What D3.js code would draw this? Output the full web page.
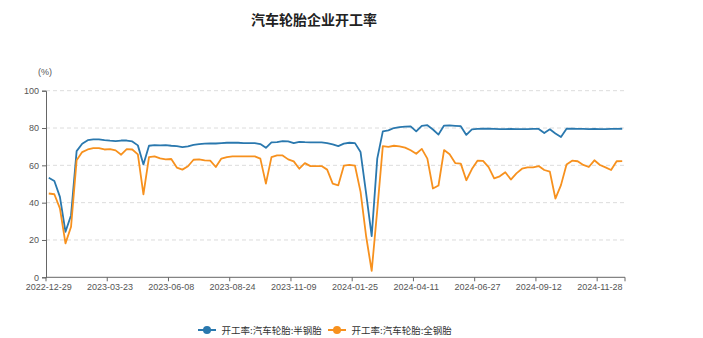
<!DOCTYPE html>
<html><head><meta charset="utf-8">
<script src="https://cdn.jsdelivr.net/npm/d3@7"></script>
<style>
html,body{margin:0;padding:0;background:#fff;}
svg{display:block;font-family:"Liberation Sans","Noto Sans CJK SC",sans-serif;}
</style></head>
<body><svg id="c" width="703" height="338"></svg>
<script>
const title = "汽车轮胎企业开工率";
const unitLabel = "(%)";
const seriesNames = ["开工率:汽车轮胎:半钢胎", "开工率:汽车轮胎:全钢胎"];
const seriesColors = ["#2a78ae", "#f7911e"];
const dates = [
"2022-12-29","2023-01-05","2023-01-12","2023-01-19","2023-02-02","2023-02-09","2023-02-16","2023-02-23","2023-03-02","2023-03-09","2023-03-16",
"2023-03-23","2023-03-30","2023-04-06","2023-04-13","2023-04-20","2023-04-27","2023-05-04","2023-05-11","2023-05-18","2023-05-25","2023-06-01",
"2023-06-08","2023-06-15","2023-06-22","2023-06-29","2023-07-06","2023-07-13","2023-07-20","2023-07-27","2023-08-03","2023-08-10","2023-08-17",
"2023-08-24","2023-08-31","2023-09-07","2023-09-14","2023-09-21","2023-09-28","2023-10-05","2023-10-12","2023-10-19","2023-10-26","2023-11-02",
"2023-11-09","2023-11-16","2023-11-23","2023-11-30","2023-12-07","2023-12-14","2023-12-21","2023-12-28","2024-01-04","2024-01-11","2024-01-18",
"2024-01-25","2024-02-01","2024-02-08","2024-02-15","2024-02-22","2024-02-29","2024-03-07","2024-03-14","2024-03-21","2024-03-28","2024-04-04",
"2024-04-11","2024-04-18","2024-04-25","2024-05-02","2024-05-09","2024-05-16","2024-05-23","2024-05-30","2024-06-06","2024-06-13","2024-06-20",
"2024-06-27","2024-07-04","2024-07-11","2024-07-18","2024-07-25","2024-08-01","2024-08-08","2024-08-15","2024-08-22","2024-08-29","2024-09-05",
"2024-09-12","2024-09-19","2024-09-26","2024-10-03","2024-10-10","2024-10-17","2024-10-24","2024-10-31","2024-11-07","2024-11-14","2024-11-21",
"2024-11-28","2024-12-05","2024-12-12","2024-12-19","2024-12-26"];
const semiSteel = [
53.4,51.6,43.1,24.4,33.3,67.6,71.6,73.5,73.9,73.9,
73.5,73.2,73.0,73.3,73.3,72.8,70.7,60.5,70.5,70.8,
70.7,70.8,70.5,70.3,69.8,70.2,71.0,71.4,71.6,71.7,
71.7,71.9,72.1,72.1,72.1,71.9,71.9,71.9,71.4,69.4,
72.3,72.4,73.0,72.8,71.9,72.6,72.4,72.3,72.3,72.3,
71.9,71.2,70.3,71.6,72.1,71.9,67.1,45.0,22.1,63.6,
78.2,78.7,80.0,80.5,80.8,80.9,78.2,81.2,81.5,79.2,
76.5,81.3,81.4,81.2,81.0,76.3,79.3,79.5,79.7,79.6,
79.5,79.4,79.4,79.5,79.4,79.4,79.4,79.5,79.5,77.3,
79.3,77.1,75.2,79.6,79.6,79.5,79.5,79.4,79.5,79.4,
79.4,79.5,79.5,79.6];
const fullSteel = [
44.9,44.5,36.9,18.2,27.1,62.7,67.1,68.5,69.2,69.2,
68.5,68.7,68.0,65.7,68.7,68.5,65.9,44.5,64.4,64.8,
63.7,63.2,63.4,58.8,57.7,59.5,63.0,63.2,62.7,62.5,
59.1,63.6,64.4,64.8,64.8,64.8,64.8,64.8,63.6,50.2,
64.4,65.3,65.3,63.2,62.1,58.2,61.2,59.6,59.6,59.6,
57.7,50.2,49.3,59.8,60.2,59.8,45.8,22.0,3.4,36.0,
70.3,69.9,70.5,70.2,69.5,68.1,66.2,68.8,63.6,47.6,
49.2,68.2,65.9,61.2,60.9,52.0,58.0,62.5,62.4,59.0,
53.0,54.1,56.3,52.4,55.7,58.2,58.9,58.9,59.6,57.5,
56.6,42.2,49.4,60.5,62.5,62.2,60.2,59.1,62.7,60.2,
58.9,57.5,62.2,62.3];
const yTicks = [0,20,40,60,80,100];
const xTickLabels = ["2022-12-29","2023-03-23","2023-06-08","2023-08-24","2023-11-09","2024-01-25","2024-04-11","2024-06-27","2024-09-12","2024-11-28"];

const svg = d3.select("#c");
const plotLeft = 46, plotRight = 625, plotTop = 90.7, plotBottom = 277.3;
const x = d3.scaleBand().domain(dates).range([plotLeft, plotRight]).padding(0);
const y = d3.scaleLinear().domain([0, 100]).range([plotBottom, plotTop]);
const cx = d => x(d) + x.bandwidth() / 2;

// title
svg.append("text").attr("x", 314).attr("y", 25).attr("text-anchor", "middle")
  .attr("font-size", 14).attr("font-weight", "bold").attr("fill", "#222")
  .attr("font-family", "'Noto Sans CJK SC',sans-serif").text(title);
svg.append("text").attr("x", 45).attr("y", 75).attr("text-anchor", "middle")
  .attr("font-size", 9).attr("fill", "#555").text(unitLabel);

// grid
svg.append("g").selectAll("line").data(yTicks.filter(v => v > 0)).join("line")
  .attr("x1", plotLeft).attr("x2", plotRight).attr("y1", d => y(d)).attr("y2", d => y(d))
  .attr("stroke", "#dcdcdc").attr("stroke-dasharray", "4,3").attr("stroke-width", 1);

// y axis
const yAxis = svg.append("g").attr("transform", `translate(${plotLeft},0)`)
  .call(d3.axisLeft(y).tickValues(yTicks).tickSize(4).tickPadding(3));
yAxis.select(".domain").attr("stroke", "#666");
yAxis.selectAll(".tick line").attr("stroke", "#666");
yAxis.selectAll(".tick text").attr("fill", "#555").attr("font-size", 9)
  .attr("font-family", "'Liberation Sans',sans-serif");

// x axis
const xg = svg.append("g");
xg.append("line").attr("x1", plotLeft).attr("x2", plotRight).attr("y1", plotBottom).attr("y2", plotBottom).attr("stroke", "#666");
const tickPos = xTickLabels.map(d => x(d)).concat([plotRight]);
xg.selectAll("line.t").data(tickPos).join("line").attr("class", "t")
  .attr("x1", d => d).attr("x2", d => d).attr("y1", plotBottom).attr("y2", plotBottom + 4).attr("stroke", "#666");
xg.selectAll("text").data(xTickLabels).join("text")
  .attr("x", d => cx(d)).attr("y", plotBottom + 12.5).attr("text-anchor", "middle")
  .attr("font-size", 9).attr("fill", "#555").attr("font-family", "'Liberation Sans',sans-serif").text(d => d);

// lines
const seriesData = [semiSteel, fullSteel];
const line = d3.line().x((d, i) => cx(dates[i])).y(d => y(d));
seriesData.forEach((s, k) => {
  svg.append("path").datum(s).attr("d", line).attr("fill", "none")
    .attr("stroke", seriesColors[k]).attr("stroke-width", 1.8).attr("stroke-linejoin", "round");
});

// legend
const legendX = [198, 328];
seriesNames.forEach((n, k) => {
  const g = svg.append("g").attr("transform", `translate(${legendX[k]},330)`);
  g.append("line").attr("x1", 0).attr("x2", 18).attr("stroke", seriesColors[k]).attr("stroke-width", 2);
  g.append("circle").attr("cx", 9).attr("r", 4).attr("fill", seriesColors[k]);
  g.append("text").attr("x", 23.5).attr("y", 3.5).attr("font-size", 9.5).attr("fill", "#333")
    .attr("font-family", "'Noto Sans CJK SC',sans-serif").text(n);
});
</script></body></html>
